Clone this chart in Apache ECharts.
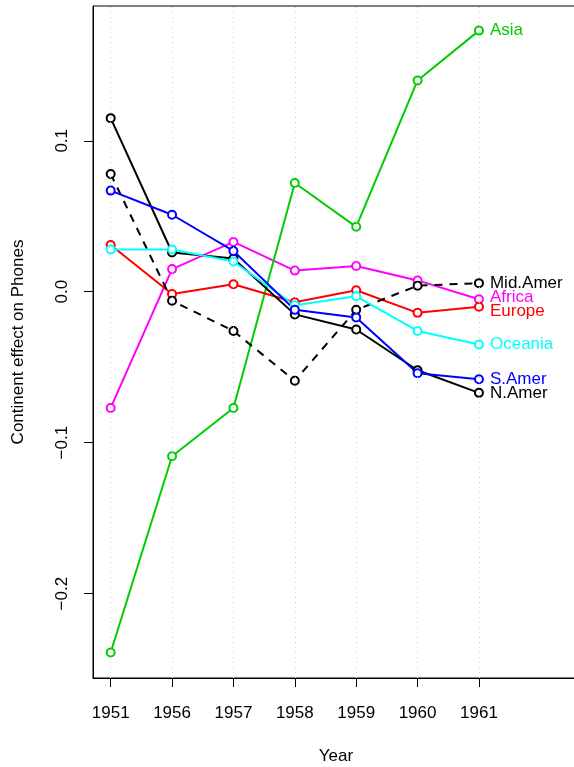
<!DOCTYPE html>
<html>
<head>
<meta charset="utf-8">
<script src="https://cdn.jsdelivr.net/npm/echarts@6/dist/echarts.min.js"></script>
<style>
html,body{margin:0;padding:0;background:#fff;}
#chart{width:574px;height:767px;}
</style>
</head>
<body>
<div id="chart"></div>
<script>
const years = ['1951','1956','1957','1958','1959','1960','1961'];
const yTickValues = [-0.2, -0.1, 0, 0.1];
const yTickLabels = ['\u22120.2', '\u22120.1', '0.0', '0.1'];

const africa  = [-0.077, 0.015, 0.033, 0.014, 0.017, 0.0075, -0.005];
const asia    = [-0.239, -0.109, -0.077, 0.072, 0.043, 0.140, 0.173];
const europe  = [0.031, -0.0015, 0.005, -0.007, 0.001, -0.014, -0.010];
const midAmer = [0.078, -0.006, -0.026, -0.059, -0.012, 0.004, 0.0057];
const nAmer   = [0.115, 0.026, 0.022, -0.015, -0.025, -0.052, -0.067];
const oceania = [0.028, 0.028, 0.020, -0.009, -0.003, -0.026, -0.035];
const sAmer   = [0.067, 0.051, 0.027, -0.012, -0.017, -0.054, -0.058];

const idx = years.map((_, i) => i);
const FONT = 'Liberation Sans, Arial, Helvetica, sans-serif';
const FS = 17;

function mk(name, vals, color, dashed, labelOffset) {
  return {
    name: name,
    type: 'line',
    data: vals.map((v, i) => [i, v]),
    symbol: 'emptyCircle',
    symbolSize: 8,
    z: 3,
    itemStyle: { color: color, borderColor: color, borderWidth: 1.8 },
    lineStyle: { color: color, width: 2, type: dashed ? [8, 7] : 'solid' },
    emphasis: { disabled: true },
    endLabel: {
      show: true,
      formatter: '{a}',
      color: color,
      fontFamily: FONT,
      fontSize: FS,
      distance: 11,
      offset: labelOffset || [0, 0]
    },
    animation: false
  };
}

const chart = echarts.init(document.getElementById('chart'), null, { renderer: 'canvas' });
chart.setOption({
  animation: false,
  backgroundColor: '#fff',
  grid: { left: 93, top: 6, bottom: 89, right: -5, outerBoundsMode: 'none', containLabel: false, show: true, borderColor: '#000', borderWidth: 1, backgroundColor: 'transparent' },
  xAxis: {
    type: 'value',
    min: -0.288, max: 7.63,
    name: 'Year', nameLocation: 'middle', nameGap: 70,
    nameTextStyle: { fontFamily: FONT, fontSize: FS, color: '#000' },
    axisLine: { show: true, onZero: false, lineStyle: { color: '#000', width: 1 } },
    axisTick: { show: true, customValues: idx, length: 9, lineStyle: { color: '#000' } },
    axisLabel: { customValues: idx, formatter: v => years[Math.round(v)], margin: 27, fontFamily: FONT, fontSize: FS, color: '#000' },
    splitLine: { show: false }
  },
  yAxis: {
    type: 'value',
    min: -0.2559, max: 0.1893,
    name: 'Continent effect on Phones', nameLocation: 'middle', nameGap: 66, nameRotate: 90,
    nameTextStyle: { fontFamily: FONT, fontSize: FS, color: '#000' },
    axisLine: { show: true, onZero: false, lineStyle: { color: '#000', width: 1 } },
    axisTick: { show: true, customValues: yTickValues, length: 9, lineStyle: { color: '#000' } },
    axisLabel: { customValues: yTickValues, formatter: v => yTickLabels[yTickValues.findIndex(t => Math.abs(t - v) < 1e-9)], rotate: 90, margin: 22, fontFamily: FONT, fontSize: FS, color: '#000' },
    splitLine: { show: false }
  },
  series: [
    {
      name: 'grid', type: 'line', data: [], z: 1, silent: true,
      markLine: {
        silent: true, symbol: 'none', animation: false,
        label: { show: false },
        lineStyle: { color: '#cccccc', type: [1, 4], width: 1 },
        data: idx.map(i => ({ xAxis: i }))
      }
    },
    mk('Africa', africa, '#FF00FF', false, [0, -2]),
    mk('Asia', asia, '#00CD00', false),
    mk('Europe', europe, '#FF0000', false, [0, 4]),
    mk('Mid.Amer', midAmer, '#000000', true),
    mk('N.Amer', nAmer, '#000000', false),
    mk('Oceania', oceania, '#00FFFF', false),
    mk('S.Amer', sAmer, '#0000FF', false)
  ]
});
</script>
</body>
</html>
